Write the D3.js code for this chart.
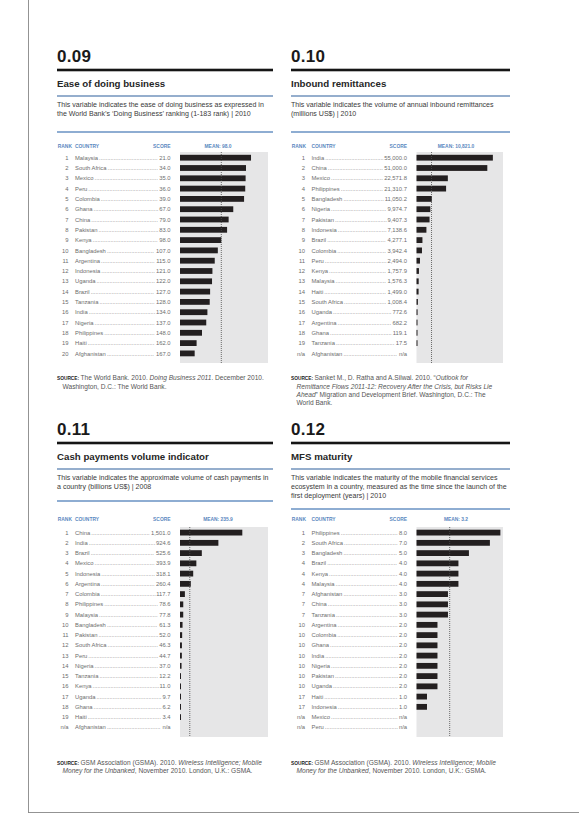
<!DOCTYPE html>
<html><head><meta charset="utf-8">
<script src="https://cdn.jsdelivr.net/npm/d3@7"></script>
<style>
html,body{margin:0;padding:0;background:#fff;}
svg{display:block;}
</style></head>
<body>
<svg id="page" width="579" height="819"></svg>
<script>
// ---------- 0.09 Ease of doing business ----------
const ranks09 = ["1","2","3","4","5","6","7","8","9","10","11","12","13","14","15","16","17","18","19","20"];
const countries09 = ["Malaysia","South Africa","Mexico","Peru","Colombia","Ghana","China","Pakistan","Kenya","Bangladesh","Argentina","Indonesia","Uganda","Brazil","Tanzania","India","Nigeria","Philippines","Haiti","Afghanistan"];
const values09 = [21,34,35,36,39,67,79,83,98,107,115,121,122,127,128,134,137,148,162,167];

// ---------- 0.10 Inbound remittances ----------
const ranks10 = ["1","2","3","4","5","6","7","8","9","10","11","12","13","14","15","16","17","18","19","n/a"];
const countries10 = ["India","China","Mexico","Philippines","Bangladesh","Nigeria","Pakistan","Indonesia","Brazil","Colombia","Peru","Kenya","Malaysia","Haiti","South Africa","Uganda","Argentina","Ghana","Tanzania","Afghanistan"];
const values10 = [55000,51000,22571.8,21310.7,11050.2,9974.7,9407.3,7138.6,4277.1,3942.4,2494.0,1757.9,1576.3,1499.0,1008.4,772.6,682.2,119.1,17.5,null];

// ---------- 0.11 Cash payments volume indicator ----------
const ranks11 = ["1","2","3","4","5","6","7","8","9","10","11","12","13","14","15","16","17","18","19","n/a"];
const countries11 = ["China","India","Brazil","Mexico","Indonesia","Argentina","Colombia","Philippines","Malaysia","Bangladesh","Pakistan","South Africa","Peru","Nigeria","Tanzania","Kenya","Uganda","Ghana","Haiti","Afghanistan"];
const values11 = [1501.0,924.6,525.6,393.9,318.1,260.4,117.7,78.6,77.8,61.3,52.0,46.3,44.7,37.0,12.2,11.0,9.7,6.2,3.4,null];

// ---------- 0.12 MFS maturity ----------
const ranks12 = ["1","2","3","4","4","4","7","7","7","10","10","10","10","10","10","10","17","17","n/a","n/a"];
const countries12 = ["Philippines","South Africa","Bangladesh","Brazil","Kenya","Malaysia","Afghanistan","China","Tanzania","Argentina","Colombia","Ghana","India","Nigeria","Pakistan","Uganda","Haiti","Indonesia","Mexico","Peru"];
const values12 = [8,7,5,4,4,4,3,3,3,2,2,2,2,2,2,2,1,1,null,null];

// ---------- text ----------
const numbers = ["0.09","0.10","0.11","0.12"];
const titles = ["Ease of doing business","Inbound remittances","Cash payments volume indicator","MFS maturity"];
const descs = [
  ["This variable indicates the ease of doing business as expressed in",
   "the World Bank\u2019s \u2018Doing Business\u2019 ranking (1-183 rank) | 2010"],
  ["This variable indicates the volume of annual inbound remittances",
   "(millions US$) | 2010"],
  ["This variable indicates the approximate volume of cash payments in",
   "a country (billions US$) | 2008"],
  ["This variable indicates the maturity of the mobile financial services",
   "ecosystem in a country, measured as the time since the launch of the",
   "first deployment (years) | 2010"]
];
// each source line: list of [text, italic]
const sources = [
  [[["The World Bank. 2010. ",0],["Doing Business 2011",1],[". December 2010.",0]],
   [["Washington, D.C.: The World Bank.",0]]],
  [[["Sanket M., D. Ratha and A.Silwal. 2010. \u201c",0],["Outlook for",1]],
   [["Remittance Flows 2011-12: Recovery After the Crisis, but Risks Lie",1]],
   [["Ahead",1],["\u201d Migration and Development Brief. Washington, D.C.: The",0]],
   [["World Bank.",0]]],
  [[["GSM Association (GSMA). 2010. ",0],["Wireless Intelligence; Mobile",1]],
   [["Money for the Unbanked",1],[", November 2010. London, U.K.: GSMA.",0]]],
  [[["GSM Association (GSMA). 2010. ",0],["Wireless Intelligence; Mobile",1]],
   [["Money for the Unbanked",1],[", November 2010. London, U.K.: GSMA.",0]]]
];

// ---------- layout ----------
const SANS = "'Liberation Sans', Arial, Helvetica, sans-serif";
const cols = {
  left:  {x0:57,  x1:273, rankR:68.5, countryX:75,    scoreR:170.5, barX:180,   barW:88,   meanCX:218},
  right: {x0:291, x1:510, rankR:305,  countryX:311.5, scoreR:407,   barX:416.5, barW:86.5, meanCX:456}
};
const bands = {
  top:    {num:61.7,  thick:70,  title:86.8,  blue:96,  desc:106.5, header:147.8, row1:157.7, step:10.3,  bgTop:152, bgBot:363, source:380.2},
  bottom: {num:434.7, thick:443, title:459.8, blue:469, desc:479.5, header:521.4, row1:532.6, step:10.25, bgTop:527, bgBot:737, source:765}
};

const panels = [
  {col:"left",  band:"top",    ranks:ranks09, countries:countries09, values:values09, domain:[205,-23], descRule:132},
  {col:"right", band:"top",    ranks:ranks10, countries:countries10, values:values10, domain:[0,62300], descRule:132},
  {col:"left",  band:"bottom", ranks:ranks11, countries:countries11, values:values11, domain:[0,2120],  descRule:501},
  {col:"right", band:"bottom", ranks:ranks12, countries:countries12, values:values12, domain:[0,8.25],  descRule:509}
];

const fmt = d3.format(",.1f");
const svg = d3.select("#page");

// page frame
svg.append("line").attr("x1",28.5).attr("x2",28.5).attr("y1",0).attr("y2",812.5)
  .attr("stroke","#777").attr("stroke-width",0.8);
svg.append("line").attr("x1",28).attr("x2",579).attr("y1",812.5).attr("y2",812.5)
  .attr("stroke","#777").attr("stroke-width",0.8);

panels.forEach((p, i) => {
  const c = cols[p.col], b = bands[p.band];
  const g = svg.append("g");

  // header block
  g.append("text").attr("x",c.x0).attr("y",b.num).text(numbers[i])
    .attr("font-family",SANS).attr("font-weight","bold").attr("font-size",17)
    .attr("letter-spacing",0.3).attr("fill","#1a1a1a");
  g.append("rect").attr("x",c.x0).attr("y",b.thick-1.3).attr("width",c.x1-c.x0).attr("height",2.6).attr("fill","#151515");
  g.append("text").attr("x",c.x0).attr("y",b.title).text(titles[i])
    .attr("font-family",SANS).attr("font-weight","bold").attr("font-size",9.7).attr("fill","#262626");
  g.append("rect").attr("x",c.x0).attr("y",b.blue-0.5).attr("width",c.x1-c.x0).attr("height",1).attr("fill","#2d5f9c");
  descs[i].forEach((line, k) => {
    g.append("text").attr("x",c.x0).attr("y",b.desc + k*9).text(line)
      .attr("font-family",SANS).attr("font-size",7.05).attr("fill","#3a3a3a");
  });
  g.append("rect").attr("x",c.x0).attr("y",p.descRule-0.75).attr("width",c.x1-c.x0).attr("height",1.5).attr("fill","#6a93c4");

  // column headings
  const hdr = (x, t, anchor) => g.append("text").attr("x",x).attr("y",b.header).text(t)
    .attr("text-anchor",anchor).attr("font-family",SANS).attr("font-weight","bold")
    .attr("font-size",4.9).attr("fill","#5a88c0");
  const valid = p.values.filter(v => v != null);
  const mean = d3.mean(valid);
  hdr(c.x0 + 0.8, "RANK", "start");
  hdr(c.countryX, "COUNTRY", "start");
  hdr(c.scoreR, "SCORE", "end");
  hdr(c.meanCX, "MEAN: " + fmt(mean), "middle");

  // bar scale and row positions
  const x = d3.scaleLinear().domain(p.domain).range([0, c.barW]);
  const y = d3.scalePoint().domain(d3.range(p.countries.length))
    .range([b.row1, b.row1 + b.step*(p.countries.length-1)]);

  g.append("rect").attr("x",c.barX).attr("y",b.bgTop).attr("width",c.barW)
    .attr("height",b.bgBot-b.bgTop).attr("fill","#e6e6e7");

  const rows = g.selectAll("g.row").data(p.countries.map((name, k) => ({
    rank: p.ranks[k], name, value: p.values[k], k
  }))).join("g").attr("class","row");

  rows.append("rect")
    .filter(d => d.value != null)
    .attr("x", c.barX)
    .attr("y", d => y(d.k) - 2.9)
    .attr("width", d => Math.max(1, x(d.value)))
    .attr("height", 5.8)
    .attr("fill", "#231f20");

  const rowText = (sel) => sel.attr("font-family",SANS).attr("font-size",5.85).attr("fill","#6e6e6e");
  rows.append("text").attr("x",c.rankR).attr("y",d => y(d.k)+2.1).attr("text-anchor","end")
    .text(d => d.rank).call(rowText);
  const nameT = rows.append("text").attr("x",c.countryX).attr("y",d => y(d.k)+2.1)
    .text(d => d.name).call(rowText);
  const scoreT = rows.append("text").attr("x",c.scoreR).attr("y",d => y(d.k)+2.1).attr("text-anchor","end")
    .text(d => d.value == null ? "n/a" : fmt(d.value)).call(rowText);

  // dotted leaders between country and score
  const probe = g.append("text").text(".").call(rowText);
  const dotW = probe.node().getComputedTextLength();
  probe.remove();
  rows.each(function(d, k) {
    const wName = nameT.nodes()[k].getComputedTextLength();
    const wScore = scoreT.nodes()[k].getComputedTextLength();
    const start = c.countryX + wName + 1;
    const avail = c.scoreR - wScore - start - 0.3;
    const n = Math.max(0, Math.floor(avail / dotW));
    d3.select(this).append("text").attr("x", start).attr("y", y(d.k)+2.1)
      .text(".".repeat(n)).call(rowText);
  });

  // mean marker
  g.append("line").attr("x1",c.barX + x(mean)).attr("x2",c.barX + x(mean))
    .attr("y1",b.bgTop).attr("y2",b.bgBot)
    .attr("stroke","#4a4a4a").attr("stroke-width",0.8).attr("stroke-dasharray","1,1");

  // source note
  sources[i].forEach((line, k) => {
    const t = g.append("text").attr("x", k === 0 ? c.x0 : c.x0 + 5.5).attr("y", b.source + k*8.4)
      .attr("font-family",SANS).attr("font-size",6.6).attr("fill","#555");
    if (k === 0) {
      t.append("tspan").text("SOURCE: ").attr("font-weight","bold").attr("font-size",4.8).attr("fill","#222");
    }
    line.forEach(([s, it]) => {
      t.append("tspan").text(s).attr("font-style", it ? "italic" : "normal");
    });
  });
});
</script>
</body></html>
